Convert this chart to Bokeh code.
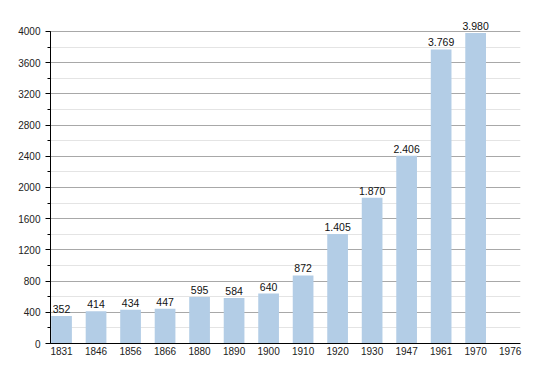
from bokeh.plotting import figure
from bokeh.models import ColumnDataSource, LabelSet, FixedTicker, SingleIntervalTicker
from bokeh.core.properties import value
from bokeh.embed import file_html
from bokeh.resources import INLINE

years = ["1831", "1846", "1856", "1866", "1880", "1890", "1900", "1910",
         "1920", "1930", "1947", "1961", "1970", "1976"]
population = [352, 414, 434, 447, 595, 584, 640, 872, 1405, 1870, 2406, 3769, 3980]
labels = ["352", "414", "434", "447", "595", "584", "640", "872",
          "1.405", "1.870", "2.406", "3.769", "3.980"]

xs = list(range(len(population)))
src = ColumnDataSource(dict(x=xs, top=population, label=labels))

p = figure(width=530, height=360, output_backend="svg", toolbar_location=None,
           x_range=(-0.32, 13.3), y_range=(0, 4256),
           min_border_left=50, min_border_right=10, min_border_top=11,
           min_border_bottom=17)
p.outline_line_color = None
p.background_fill_color = "white"

p.vbar(x="x", top="top", width=0.6, bottom=0, source=src,
       fill_color="#b3cde6", line_color=None)

p.add_layout(LabelSet(x="x", y="top", text="label", source=src,
                      text_align="center", text_baseline="bottom", y_offset=3,
                      text_font=value("Liberation Sans"), text_font_size="10.5px",
                      text_color="#111111"))

# y axis
p.yaxis.ticker = SingleIntervalTicker(interval=400, num_minor_ticks=2)
p.yaxis.bounds = (0, 4000)
p.yaxis.axis_line_color = "black"
p.yaxis.major_tick_line_color = "black"
p.yaxis.minor_tick_line_color = "black"
p.yaxis.major_tick_out = 5
p.yaxis.major_tick_in = 0
p.yaxis.minor_tick_out = 3
p.yaxis.minor_tick_in = 0
p.yaxis.major_label_text_font = "Liberation Sans"
p.yaxis.major_label_text_font_size = "10px"
p.yaxis.major_label_text_color = "#222222"
p.yaxis.major_label_standoff = 5

# x axis
p.xaxis.ticker = FixedTicker(ticks=list(range(len(years))))
p.xaxis.major_label_overrides = {i: y for i, y in enumerate(years)}
p.xaxis.axis_line_color = "black"
p.xaxis.major_tick_line_color = None
p.xaxis.minor_tick_line_color = None
p.xaxis.major_tick_out = 0
p.xaxis.major_tick_in = 0
p.xaxis.major_label_text_font = "Liberation Sans"
p.xaxis.major_label_text_font_size = "10px"
p.xaxis.major_label_text_color = "#222222"
p.xaxis.major_label_standoff = 3

p.xgrid.grid_line_color = None
p.ygrid.grid_line_color = "#a8a8a8"
p.ygrid.grid_line_width = 1
p.ygrid.minor_grid_line_color = "#e4e4e4"
p.ygrid.minor_grid_line_width = 1

open("out.html", "w").write(file_html(p, INLINE))
